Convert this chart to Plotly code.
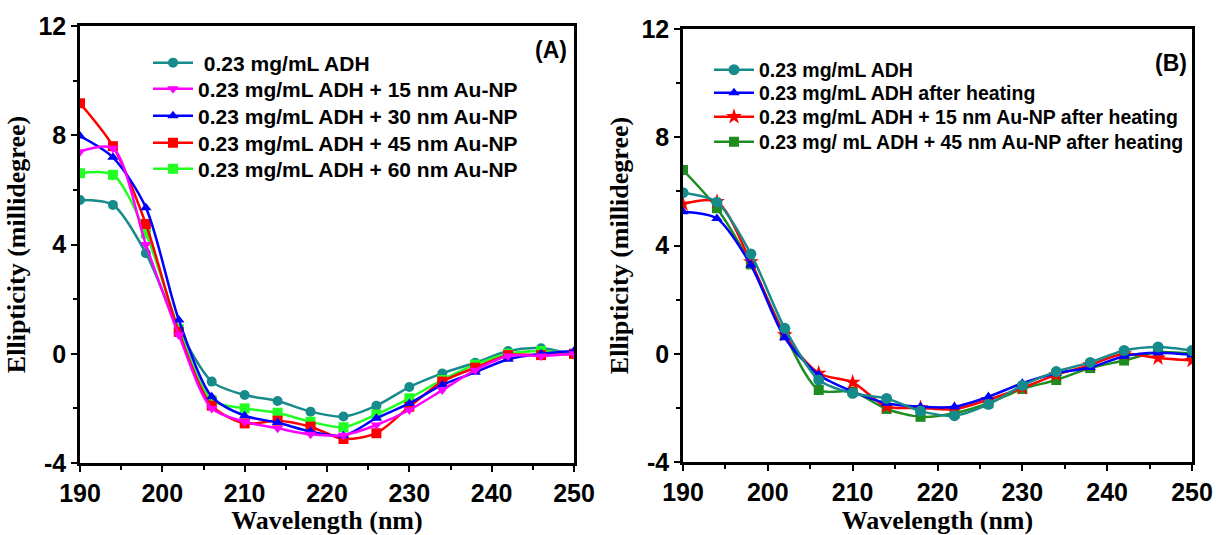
import plotly.graph_objects as go

wavelength = [190, 194, 198, 202, 206, 210, 214, 218, 222, 226, 230, 234, 238, 242, 246, 250]

# Panel A
a_adh = [5.63, 5.45, 3.68, 0.91, -1.02, -1.51, -1.73, -2.12, -2.30, -1.90, -1.22, -0.72, -0.33, 0.10, 0.20, -0.03]
a_15 = [7.40, 7.52, 4.00, 0.69, -2.00, -2.49, -2.73, -2.95, -2.98, -2.61, -2.06, -1.33, -0.60, -0.08, -0.08, 0.00]
a_30 = [7.97, 7.19, 5.35, 1.24, -1.57, -2.27, -2.52, -2.85, -3.00, -2.36, -1.82, -1.14, -0.68, -0.20, 0.00, 0.10]
a_45 = [9.17, 7.60, 4.75, 0.80, -1.90, -2.55, -2.45, -2.67, -3.12, -2.91, -1.94, -1.02, -0.51, -0.05, -0.05, 0.00]
a_60 = [6.61, 6.55, 4.40, 0.90, -1.70, -2.00, -2.16, -2.49, -2.69, -2.22, -1.63, -0.96, -0.40, 0.00, 0.10, 0.00]

# Panel B
b_adh = [5.95, 5.60, 3.69, 0.94, -0.97, -1.46, -1.65, -2.12, -2.29, -1.87, -1.17, -0.66, -0.32, 0.12, 0.25, 0.12]
b_heat = [5.25, 5.00, 3.28, 0.59, -0.78, -1.40, -1.83, -1.96, -1.96, -1.59, -1.09, -0.72, -0.51, -0.09, 0.04, -0.04]
b_15_heat = [5.53, 5.62, 3.40, 0.70, -0.72, -1.06, -1.95, -2.00, -2.05, -1.70, -1.26, -0.78, -0.41, 0.00, -0.16, -0.25]
b_45_heat = [6.79, 5.38, 3.30, 0.70, -1.34, -1.40, -2.04, -2.33, -2.20, -1.83, -1.30, -0.97, -0.53, -0.25, 0.06, 0.00]

# Tick labels
y_tickvals = [-4, 0, 4, 8, 12]
y_ticktext = ["-4", "0", "4", "8", "12"]
x_tickvals = [190, 200, 210, 220, 230, 240, 250]
x_ticktext = ["190", "200", "210", "220", "230", "240", "250"]

TEAL = "#178b8b"
MAGENTA = "#ff00ff"
BLUE = "#0000ff"
RED = "#ff0000"
LIME = "#22ff22"
DGREEN = "#1e8c1e"

W, H = 1216, 535

fig = go.Figure()
legends = {}

def add(x, y, name, color, symbol, xa, ya, leg, lx, ly, fsize, size=10):
    fig.add_trace(go.Scatter(
        x=x, y=y, name=name, mode="lines+markers", showlegend=True,
        line=dict(color=color, width=2.5, shape="spline", smoothing=0.8),
        marker=dict(color=color, symbol=symbol, size=size),
        xaxis=xa, yaxis=ya, legend=leg,
    ))
    legends[leg] = dict(
        x=lx / W, y=1 - ly / H, xanchor="left", yanchor="middle",
        bgcolor="rgba(0,0,0,0)", itemwidth=40,
        font=dict(family="Liberation Sans, Arial", size=fsize, color="black", weight="bold"),
    )

# Panel A (draw order chosen so magenta ends on top)
add(wavelength, a_adh, " 0.23 mg/mL ADH", TEAL, "circle", "x", "y", "legend", 148, 63, 21)
add(wavelength, a_60, "0.23 mg/mL ADH + 60 nm Au-NP", LIME, "square", "x", "y", "legend5", 148, 169, 21)
add(wavelength, a_45, "0.23 mg/mL ADH + 45 nm Au-NP", RED, "square", "x", "y", "legend4", 148, 143, 21)
add(wavelength, a_30, "0.23 mg/mL ADH + 30 nm Au-NP", BLUE, "triangle-up", "x", "y", "legend3", 148, 116, 21)
add(wavelength, a_15, "0.23 mg/mL ADH + 15 nm Au-NP", MAGENTA, "triangle-down", "x", "y", "legend2", 148, 89, 21)

# Panel B
add(wavelength, b_45_heat, "0.23 mg/ mL ADH + 45 nm Au-NP after heating", DGREEN, "square", "x2", "y2", "legend9", 709, 142, 19.5)
add(wavelength, b_15_heat, "0.23 mg/mL ADH + 15 nm Au-NP after heating", RED, "star", "x2", "y2", "legend8", 709, 117, 19.5, 12)
add(wavelength, b_heat, "0.23 mg/mL ADH after heating", BLUE, "triangle-up", "x2", "y2", "legend7", 709, 93, 19.5)
add(wavelength, b_adh, "0.23 mg/mL ADH", TEAL, "circle", "x2", "y2", "legend6", 709, 70, 19.5, 11)

tickfont = dict(family="Liberation Sans, Arial", size=25, color="black", weight="bold")
titlefont = dict(family="Liberation Serif, Times New Roman", size=26, color="black", weight="bold")

def xaxis(domain, anchor):
    return dict(domain=domain, anchor=anchor, range=[190, 250],
                tickvals=x_tickvals, ticktext=x_ticktext,
                showline=True, mirror=True, linecolor="black", linewidth=2.5,
                ticks="outside", ticklen=6, tickwidth=2, tickcolor="black",
                minor=dict(dtick=5, tick0=190, ticks="outside", ticklen=4, tickwidth=2, tickcolor="black"),
                showgrid=False, zeroline=False, tickfont=tickfont, automargin=False,
                title=dict(text="Wavelength (nm)", font=titlefont, standoff=8))

def yaxis(domain, anchor):
    return dict(domain=domain, anchor=anchor, range=[-4, 12],
                tickvals=y_tickvals, ticktext=y_ticktext,
                showline=True, mirror=True, linecolor="black", linewidth=2.5,
                ticks="outside", ticklen=6, tickwidth=2, tickcolor="black",
                minor=dict(dtick=2, tick0=-4, ticks="outside", ticklen=4, tickwidth=2, tickcolor="black"),
                showgrid=False, zeroline=False, tickfont=tickfont, automargin=False,
                title=dict(text="Ellipticity (millidegree)", font=titlefont, standoff=6))

fig.update_layout(
    width=W, height=H,
    showlegend=True,
    margin=dict(l=0, r=0, t=0, b=0),
    paper_bgcolor="white", plot_bgcolor="white",
    xaxis=xaxis([80 / W, 574 / W], "y"),
    yaxis=yaxis([1 - 463 / H, 1 - 26 / H], "x"),
    xaxis2=xaxis([683 / W, 1192 / W], "y2"),
    yaxis2=yaxis([1 - 462 / H, 1 - 29 / H], "x2"),
    annotations=[
        dict(text="(A)", x=569 / W, y=1 - 50 / H, xref="paper", yref="paper",
             xanchor="right", yanchor="middle", showarrow=False,
             font=dict(family="Liberation Sans, Arial", size=23, color="black", weight="bold")),
        dict(text="(B)", x=1189 / W, y=1 - 63 / H, xref="paper", yref="paper",
             xanchor="right", yanchor="middle", showarrow=False,
             font=dict(family="Liberation Sans, Arial", size=23, color="black", weight="bold")),
    ],
)
fig.update_layout(**legends)

fig.write_html("out.html")
